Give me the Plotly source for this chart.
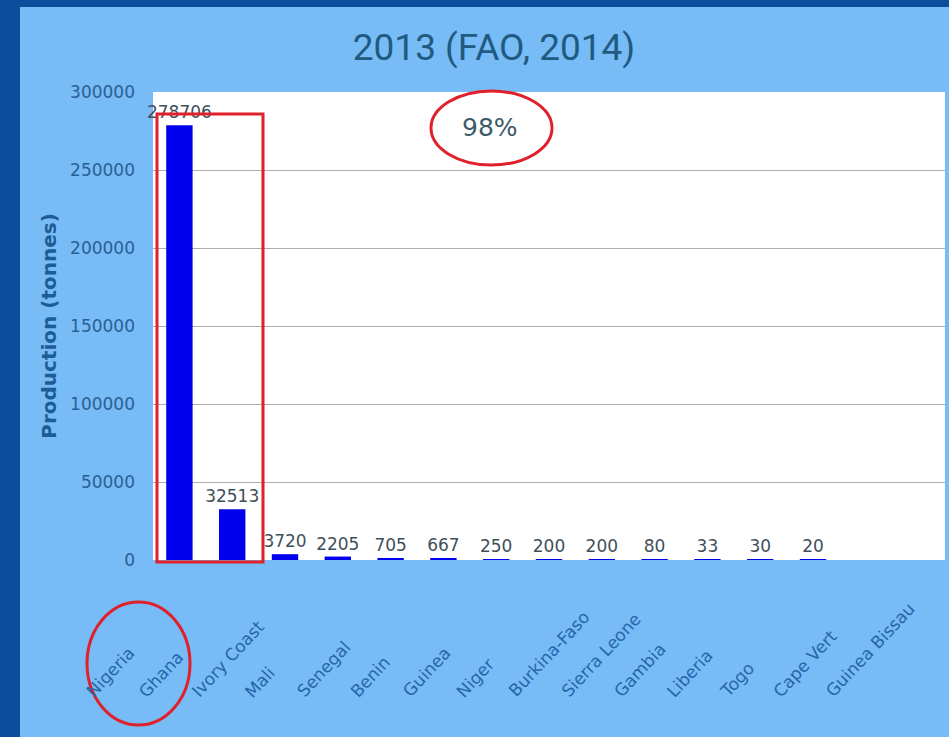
import plotly.graph_objects as go

countries = ["Nigeria", "Ghana", "Ivory Coast", "Mali", "Senegal", "Benin", "Guinea",
             "Niger", "Burkina-Faso", "Sierra Leone", "Gambia", "Liberia", "Togo",
             "Cape Vert", "Guinea Bissau"]
production = [278706, 32513, 3720, 2205, 705, 667, 250, 200, 200, 80, 33, 30, 20, None, None]
y_ticks = [0, 50000, 100000, 150000, 200000, 250000, 300000]
title_text = "2013 (FAO, 2014)"
share_text = "98%"

W, H = 949, 737
L, R, T, B = 153, 4, 92, 177
pw, ph = W - L - R, H - T - B


def px_x(p):
    return (p - L) / pw


def px_y(p):
    return (H - B - p) / ph


DARK = "#0a4e9c"
BG = "#77bbf7"
RED = "#e0202a"
FONT = "DejaVu Sans"

fig = go.Figure()
fig.add_trace(go.Bar(
    x=countries, y=production,
    marker=dict(color="#0000ee", line=dict(width=0)),
    text=[None if v is None else str(v) for v in production],
    textposition="outside",
    textfont=dict(family=FONT, size=17, color="#3f4f5a"),
    cliponaxis=False,
    width=0.5,
    hoverinfo="skip",
))

shapes = [
    # dark frame strips
    dict(type="rect", xref="paper", yref="paper", x0=px_x(0), x1=px_x(20), y0=px_y(H), y1=px_y(0),
         fillcolor=DARK, line=dict(width=0), layer="above"),
    dict(type="rect", xref="paper", yref="paper", x0=px_x(0), x1=px_x(W), y0=px_y(7), y1=px_y(0),
         fillcolor=DARK, line=dict(width=0), layer="above"),
    # red box around first two bars
    dict(type="rect", xref="paper", yref="paper", x0=px_x(157), x1=px_x(263), y0=px_y(562), y1=px_y(114),
         line=dict(color=RED, width=3), fillcolor="rgba(0,0,0,0)", layer="above"),
    # ellipse around 98%
    dict(type="circle", xref="paper", yref="paper", x0=px_x(431), x1=px_x(552), y0=px_y(165), y1=px_y(91),
         line=dict(color=RED, width=3), layer="above"),
    # ellipse around Nigeria/Ghana labels
    dict(type="circle", xref="paper", yref="paper", x0=px_x(87), x1=px_x(190), y0=px_y(725), y1=px_y(602),
         line=dict(color=RED, width=3), layer="above"),
]

annotations = [
    dict(text=share_text, xref="paper", yref="paper", x=px_x(490), y=px_y(128),
         showarrow=False, font=dict(family=FONT, size=25, color="#3d5a6a"),
         xanchor="center", yanchor="middle"),
]
for c in countries:
    annotations.append(dict(
        text=c, x=c, xref="x", yref="paper", y=px_y(704),
        xanchor="left", yanchor="bottom", xshift=-100, textangle=-47,
        showarrow=False, font=dict(family=FONT, size=17, color="#2566a8"),
    ))

fig.update_layout(
    width=W, height=H,
    margin=dict(l=L, r=R, t=T, b=B, autoexpand=False),
    paper_bgcolor=BG, plot_bgcolor="white",
    showlegend=False,
    bargap=0.5,
    hovermode=False,
    uniformtext=dict(minsize=17, mode="show"),
    title=dict(text=title_text, x=494 / W, xanchor="center",
               y=1 - 47 / H, yanchor="middle",
               font=dict(family="Roboto", size=37, color="#215a80")),
    xaxis=dict(showticklabels=False, ticks="", showgrid=False, showline=False,
               range=[-0.5, len(countries) - 0.5], fixedrange=True),
    yaxis=dict(range=[0, 300000], tickvals=y_ticks, ticktext=[str(v) for v in y_ticks],
               showgrid=True, gridcolor="#adadad", gridwidth=1, zeroline=False,
               ticks="", ticklabelstandoff=17, fixedrange=True,
               tickfont=dict(family=FONT, size=17, color="#2a5f92"),
               title=dict(text="<b>Production (tonnes)</b>", standoff=8,
                          font=dict(family=FONT, size=20, color="#1e5c94"))),
    shapes=shapes,
    annotations=annotations,
)

fig.write_html("out.html", config={"displayModeBar": False},
               post_script="document.body.style.margin='0';")
